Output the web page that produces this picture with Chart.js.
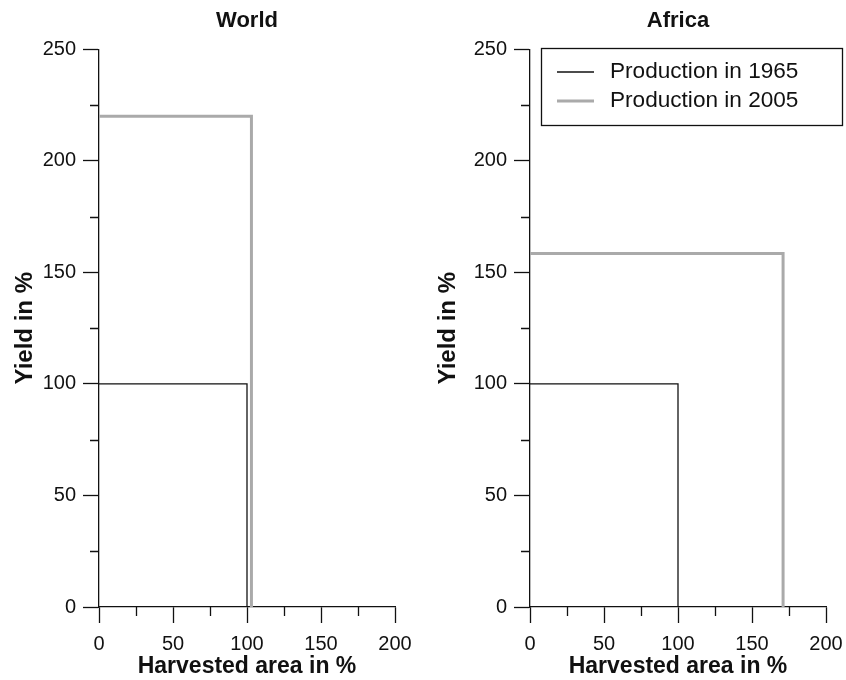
<!DOCTYPE html>
<html>
<head>
<meta charset="utf-8">
<script src="https://cdn.jsdelivr.net/npm/chart.js@4.4.1/dist/chart.umd.min.js"></script>
<style>
html,body{margin:0;padding:0;background:#fff;}
#wrap{display:flex;width:846px;height:680px;}
.cell{position:relative;width:423px;height:680px;}
canvas{display:block;}
</style>
</head>
<body>
<div id="wrap">
  <div class="cell"><canvas id="c0" width="423" height="680"></canvas></div>
  <div class="cell"><canvas id="c1" width="423" height="680"></canvas></div>
</div>
<script>
// ---- data ----
const panelTitles = ['World', 'Africa'];
const seriesLabels = ['Production in 1965', 'Production in 2005'];
const worldX1965 = [0, 100, 100];
const worldY1965 = [100, 100, 0];
const worldX2005 = [0, 103, 103];
const worldY2005 = [220, 220, 0];
const africaX1965 = [0, 100, 100];
const africaY1965 = [100, 100, 0];
const africaX2005 = [0, 171, 171];
const africaY2005 = [158.5, 158.5, 0];
const xMajorTicks = [0, 50, 100, 150, 200];
const xMinorTicks = [25, 75, 125, 175];
const yMajorTicks = [0, 50, 100, 150, 200, 250];
const yMinorTicks = [25, 75, 125, 175, 225];
const xAxisTitle = 'Harvested area in %';
const yAxisTitle = 'Yield in %';

const FONT = "'Liberation Sans', Arial, Helvetica, sans-serif";
const C1965 = '#111111';
const C2005 = '#aaaaaa';

function pts(xs, ys) { return xs.map((x, i) => ({ x: x, y: ys[i] })); }

const minorTickPlugin = {
  id: 'minorTicks',
  afterDraw(chart) {
    const ctx = chart.ctx;
    const xs = chart.scales.x, ys = chart.scales.y;
    const ca = chart.chartArea;
    ctx.save();
    ctx.strokeStyle = '#111';
    ctx.lineWidth = 1.3;
    ctx.beginPath();
    xMinorTicks.forEach(v => {
      const px = Math.round(xs.getPixelForValue(v)) + 0.5;
      ctx.moveTo(px, ca.bottom); ctx.lineTo(px, ca.bottom + 9);
    });
    yMinorTicks.forEach(v => {
      const py = Math.round(ys.getPixelForValue(v)) + 0.5;
      ctx.moveTo(ca.left, py); ctx.lineTo(ca.left - 9, py);
    });
    ctx.stroke();
    ctx.restore();
  }
};

const boxLegendPlugin = {
  id: 'boxLegend',
  afterDraw(chart, args, opts) {
    if (!opts || !opts.show) return;
    const ctx = chart.ctx;
    ctx.save();
    ctx.strokeStyle = '#111';
    ctx.lineWidth = 1.3;
    ctx.strokeRect(opts.x + 0.5, opts.y + 0.5, opts.w, opts.h);
    ctx.font = '22.6px ' + FONT;
    ctx.textBaseline = 'middle';
    ctx.fillStyle = '#111';
    chart.data.datasets.forEach((ds, i) => {
      const y = opts.y + opts.firstRow + i * opts.rowGap;
      ctx.beginPath();
      ctx.strokeStyle = ds.borderColor;
      ctx.lineWidth = ds.borderWidth;
      ctx.moveTo(opts.x + 16, y); ctx.lineTo(opts.x + 53, y);
      ctx.stroke();
      ctx.fillText(ds.label, opts.x + 69, y);
    });
    ctx.restore();
  }
};

function makeChart(id, title, x65, y65, x05, y05, leftW, rightPad, legend) {
  return new Chart(document.getElementById(id), {
    type: 'scatter',
    data: {
      datasets: [
        { label: seriesLabels[0], data: pts(x65, y65), showLine: true, borderColor: C1965, backgroundColor: C1965, borderWidth: 1.3, pointRadius: 0, tension: 0 },
        { label: seriesLabels[1], data: pts(x05, y05), showLine: true, borderColor: C2005, backgroundColor: C2005, borderWidth: 3, pointRadius: 0, tension: 0 }
      ]
    },
    options: {
      responsive: false,
      animation: false,
      devicePixelRatio: 1,
      layout: { padding: { left: 0, right: rightPad, top: 0, bottom: 0 } },
      plugins: {
        legend: { display: false },
        tooltip: { enabled: false },
        title: { display: true, fullSize: false, text: title, color: '#111', font: { family: FONT, size: 22, weight: 'bold' }, padding: { top: 8, bottom: 15 } },
        boxLegend: legend
      },
      scales: {
        x: {
          type: 'linear', min: 0, max: 200,
          afterBuildTicks: s => { s.ticks = xMajorTicks.map(v => ({ value: v })); },
          afterFit: s => { s.height = 73; s.paddingLeft = 0; s.paddingRight = 0; },
          grid: { display: true, drawOnChartArea: false, drawTicks: true, tickLength: 16, tickColor: '#111', tickWidth: 1.3 },
          border: { display: true, color: '#111', width: 1.3 },
          ticks: { color: '#111', font: { family: FONT, size: 20 }, padding: 9, maxRotation: 0 },
          title: { display: true, text: xAxisTitle, color: '#111', font: { family: FONT, size: 23, weight: 'bold' }, padding: { top: 0, bottom: 0 } }
        },
        y: {
          type: 'linear', min: 0, max: 250,
          afterBuildTicks: s => { s.ticks = yMajorTicks.map(v => ({ value: v })); },
          afterFit: s => { s.width = leftW; s.paddingTop = 0; s.paddingBottom = 0; },
          grid: { display: true, drawOnChartArea: false, drawTicks: true, tickLength: 16, tickColor: '#111', tickWidth: 1.3 },
          border: { display: true, color: '#111', width: 1.3 },
          ticks: { color: '#111', font: { family: FONT, size: 20 }, padding: 7 },
          title: { display: true, text: yAxisTitle, color: '#111', font: { family: FONT, size: 24, weight: 'bold' }, padding: { top: 11, bottom: 0 } }
        }
      }
    },
    plugins: [minorTickPlugin, boxLegendPlugin]
  });
}

makeChart('c0', panelTitles[0], worldX1965, worldY1965, worldX2005, worldY2005, 99, 28, { show: false });
makeChart('c1', panelTitles[1], africaX1965, africaY1965, africaX2005, africaY2005, 107, 20,
  { show: true, x: 118, y: 48, w: 301, h: 77, firstRow: 24, rowGap: 29 });
</script>
</body>
</html>
